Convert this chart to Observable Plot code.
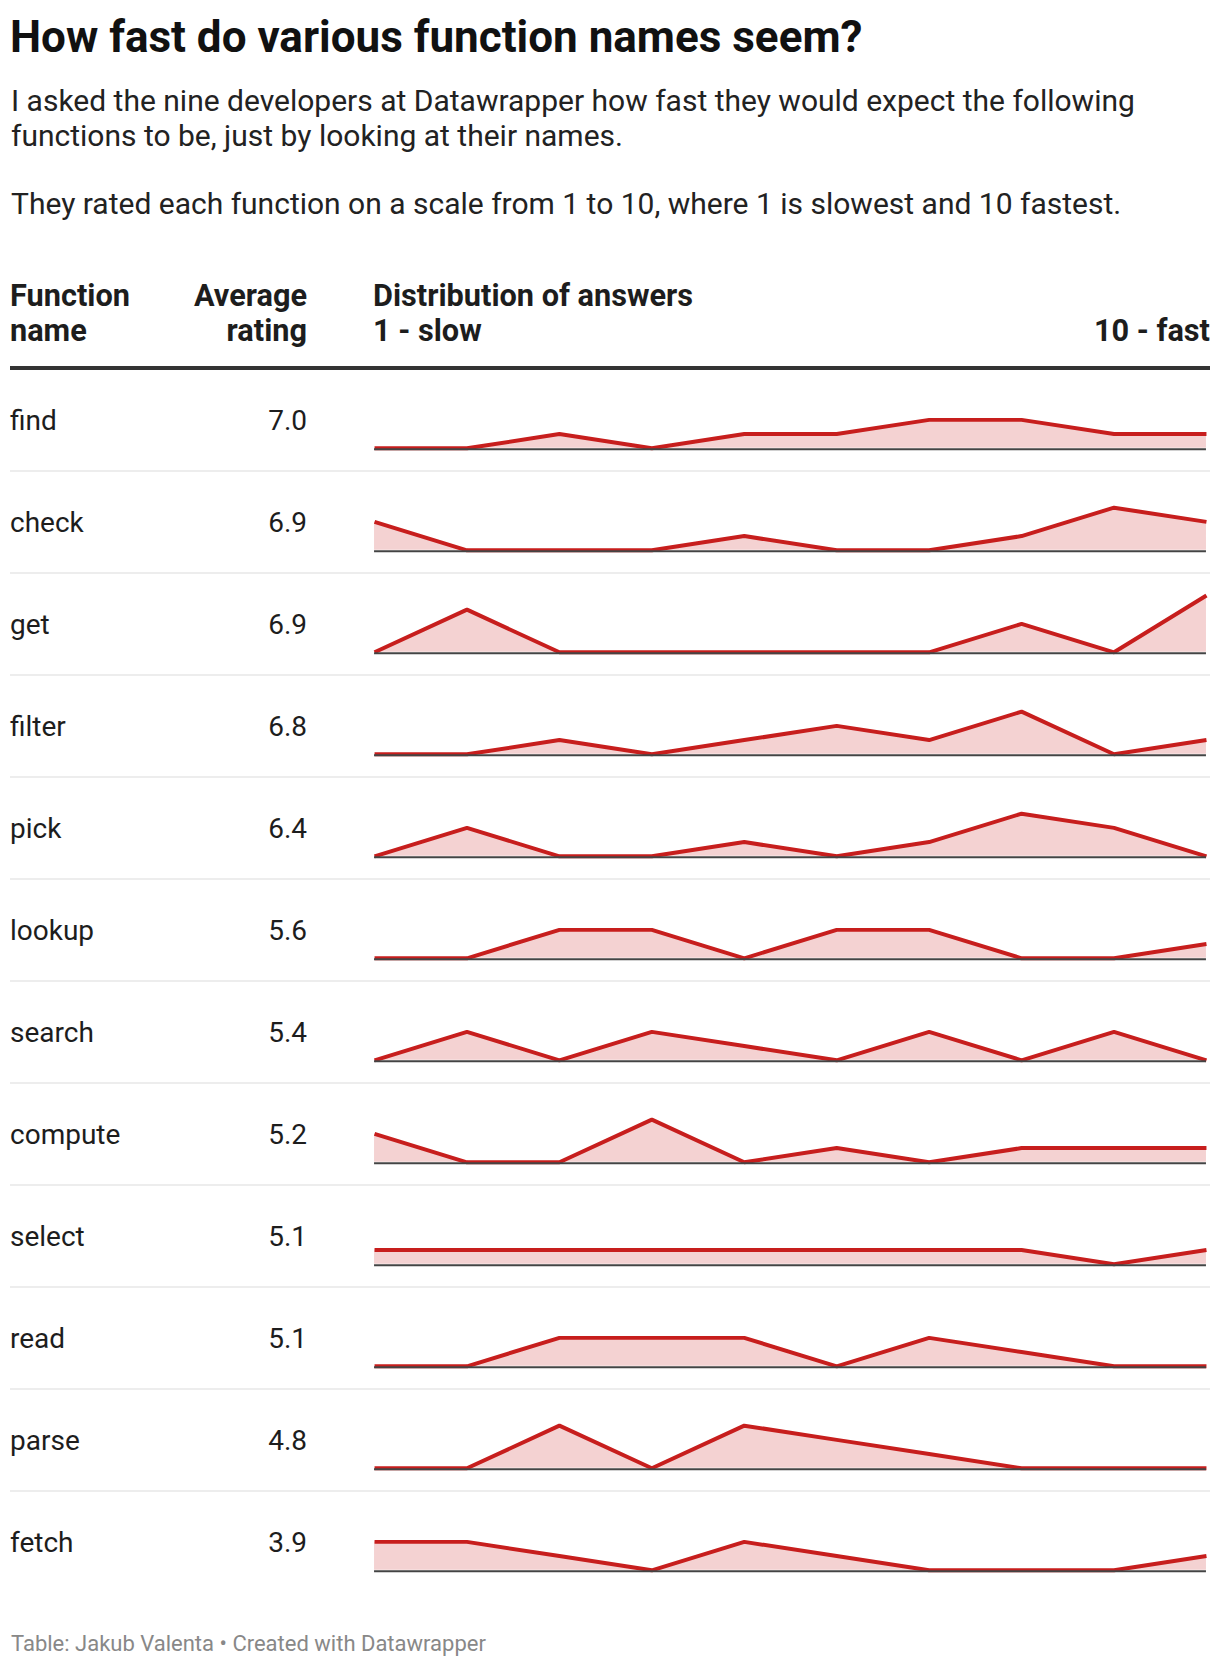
<!DOCTYPE html>
<html>
<head>
<meta charset="utf-8">
<script src="https://cdn.jsdelivr.net/npm/d3@7"></script>
<script src="https://cdn.jsdelivr.net/npm/@observablehq/plot@0.6"></script>
<style>
  html, body { margin: 0; padding: 0; background: #fff; }
  body { font-family: Roboto, "Noto Sans", sans-serif; color: #1d1d1d; }
  #page { position: relative; width: 1220px; height: 1668px; overflow: hidden; }
  .abs { position: absolute; white-space: nowrap; }
  #title { left: 10px; top: 12px; font-size: 44px; line-height: 50px; font-weight: 700; color: #111; }
  #subtitle { left: 11px; top: 84.2px; font-size: 30px; line-height: 34.4px; color: #222; }
  #subtitle p { margin: 0; }
  #subtitle p + p { margin-top: 34.4px; }
  .hd { top: 277.6px; font-size: 30.7px; line-height: 35.7px; font-weight: 700; color: #1d1d1d; }
  #hline { left: 10px; top: 366px; width: 1200px; height: 4px; background: #333; }
  #rows { position: absolute; left: 0; top: 370px; width: 1220px; }
  .row { position: relative; height: 100px; border-bottom: 2px solid #ededed; margin-left: 10px; width: 1200px; }
  .row:last-child { border-bottom: none; }
  .name { position: absolute; left: 0; top: 35.5px; font-size: 28px; line-height: 30px; color: #1d1d1d; }
  .avg { position: absolute; right: 903px; top: 35.5px; font-size: 28px; line-height: 30px; color: #1d1d1d; text-align: right; }
  .spark { position: absolute; left: 362px; top: 0; }
  .spark svg { display: block; }
  #footer { left: 11px; top: 1631px; font-size: 22px; line-height: 26px; color: #888; }
</style>
</head>
<body>
<div id="page">
  <div id="title" class="abs">How fast do various function names seem?</div>
  <div id="subtitle" class="abs">
    <p>I asked the nine developers at Datawrapper how fast they would expect the following<br>functions to be, just by looking at their names.</p>
    <p>They rated each function on a scale from 1 to 10, where 1 is slowest and 10 fastest.</p>
  </div>
  <div class="abs hd" style="left:10px;">Function<br>name</div>
  <div class="abs hd" style="right:913px; text-align:right;">Average<br>rating</div>
  <div class="abs hd" style="left:373px;">Distribution of answers<br>1 - slow</div>
  <div class="abs hd" style="right:10px; top:313.3px; text-align:right;">10 - fast</div>
  <div id="hline" class="abs"></div>
  <div id="rows"></div>
  <div id="footer" class="abs">Table: Jakub Valenta • Created with Datawrapper</div>
</div>
<script>
// Rating scale (x axis of each sparkline)
const ratingScale = [1, 2, 3, 4, 5, 6, 7, 8, 9, 10];

// Function names and their average rating
const functionNames = ["find", "check", "get", "filter", "pick", "lookup", "search", "compute", "select", "read", "parse", "fetch"];
const averageRatings = [7.0, 6.9, 6.9, 6.8, 6.4, 5.6, 5.4, 5.2, 5.1, 5.1, 4.8, 3.9];

// Number of answers for each rating 1..10
const findCounts    = [0, 0, 1, 0, 1, 1, 2, 2, 1, 1];
const checkCounts   = [2, 0, 0, 0, 1, 0, 0, 1, 3, 2];
const getCounts     = [0, 3, 0, 0, 0, 0, 0, 2, 0, 4];
const filterCounts  = [0, 0, 1, 0, 1, 2, 1, 3, 0, 1];
const pickCounts    = [0, 2, 0, 0, 1, 0, 1, 3, 2, 0];
const lookupCounts  = [0, 0, 2, 2, 0, 2, 2, 0, 0, 1];
const searchCounts  = [0, 2, 0, 2, 1, 0, 2, 0, 2, 0];
const computeCounts = [2, 0, 0, 3, 0, 1, 0, 1, 1, 1];
const selectCounts  = [1, 1, 1, 1, 1, 1, 1, 1, 0, 1];
const readCounts    = [0, 0, 2, 2, 2, 0, 2, 1, 0, 0];
const parseCounts   = [0, 0, 3, 0, 3, 2, 1, 0, 0, 0];
const fetchCounts   = [2, 2, 1, 0, 2, 1, 0, 0, 0, 1];

const distributions = [findCounts, checkCounts, getCounts, filterCounts, pickCounts, lookupCounts,
  searchCounts, computeCounts, selectCounts, readCounts, parseCounts, fetchCounts];

const RED = "#c71e1d";

function sparkline(counts) {
  const data = ratingScale.map((r, i) => ({rating: r, count: counts[i]}));
  return Plot.plot({
    width: 840,
    height: 100,
    marginLeft: 2,
    marginRight: 4,
    marginTop: 21,
    marginBottom: 22,
    x: {domain: [1, 10], axis: null},
    y: {domain: [0, 4], axis: null},
    marks: [
      Plot.areaY(data, {x: "rating", y: "count", fill: RED, fillOpacity: 0.2}),
      Plot.lineY(data, {x: "rating", y: "count", stroke: RED, strokeWidth: 4, strokeLinecap: "butt", strokeLinejoin: "miter"}),
      Plot.ruleY([0], {stroke: "#444", strokeWidth: 2, dy: 1})
    ]
  });
}

const rowsEl = document.getElementById("rows");
functionNames.forEach((name, i) => {
  const row = document.createElement("div");
  row.className = "row";
  const n = document.createElement("div");
  n.className = "name";
  n.textContent = name;
  const a = document.createElement("div");
  a.className = "avg";
  a.textContent = averageRatings[i].toFixed(1);
  const s = document.createElement("div");
  s.className = "spark";
  s.appendChild(sparkline(distributions[i]));
  row.appendChild(n);
  row.appendChild(a);
  row.appendChild(s);
  rowsEl.appendChild(row);
});
</script>
</body>
</html>
